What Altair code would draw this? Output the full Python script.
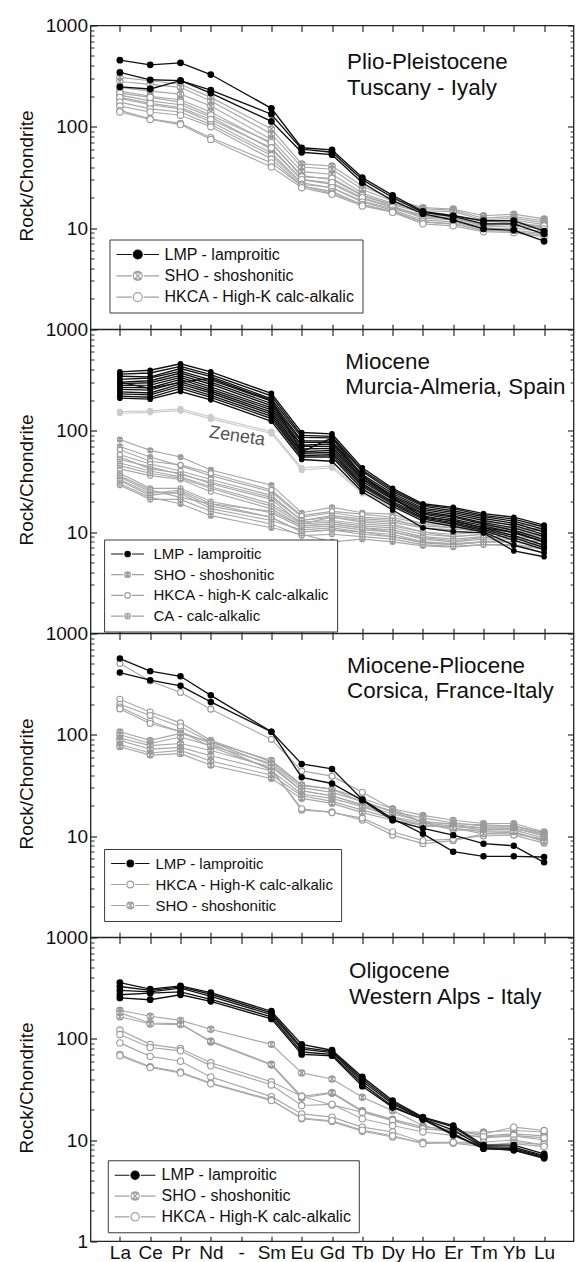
import altair as alt
import pandas as pd

FONT = "Liberation Sans"

ELEMENTS = ["La", "Ce", "Pr", "Nd", "Sm", "Eu", "Gd", "Tb", "Dy", "Ho", "Er", "Tm", "Yb", "Lu"]
AXIS_ELEMENTS = ["La", "Ce", "Pr", "Nd", "-", "Sm", "Eu", "Gd", "Tb", "Dy", "Ho", "Er", "Tm", "Yb", "Lu"]

TYPES = ["LMP", "SHO", "HKCA", "CA", "ZEN"]
LINE_COLORS = ["#111111", "#a8a8a8", "#a8a8a8", "#a8a8a8", "#cbcbcb"]
MARK_STROKES = ["#000000", "#9a9a9a", "#9a9a9a", "#9a9a9a", "#cbcbcb"]
MARK_FILLS = ["#000000", "#ffffff", "#ffffff", "#ffffff", "#cbcbcb"]

MAJOR = [10, 100, 1000]
MAJOR_WITH_ONE = [1, 10, 100, 1000]
MINOR = [2, 3, 4, 5, 6, 7, 8, 9, 20, 30, 40, 50, 60, 70, 80, 90, 200, 300, 400, 500, 600, 700, 800, 900]

# ---------------- Panel 1: Plio-Pleistocene, Tuscany ----------------
P1_LMP = [
    [455, 409, 428, 328, 152, 62, 59, 31.5, 21, 14.6, 13.2, 11.8, 11.8, 9.3],
    [344, 291, 285, 230, 133, 60, 56, 30, 20, 14.3, 13, 11, 11, 8.7],
    [248, 236, 285, 215, 113, 56, 53, 28, 18.6, 13.8, 12, 9.8, 9.5, 7.4],
]
P1_SHO = [
    [307, 285, 263, 195, 95, 43, 41, 26, 19.3, 15.9, 15.4, 13.2, 13.7, 12.3],
    [280, 262, 245, 180, 85, 40, 38, 24, 18.5, 15.5, 15, 12.5, 13, 11.8],
    [245, 225, 210, 160, 75, 36, 34, 22, 17.5, 14.8, 14.5, 12, 12.5, 11.3],
    [225, 200, 185, 140, 68, 33, 30, 21, 17, 14.2, 13.5, 11.5, 12, 10.8],
    [205, 180, 165, 125, 60, 30, 27, 19.5, 16, 13.5, 13, 11, 11.5, 10.2],
    [190, 165, 150, 112, 55, 28, 25, 18.5, 15.5, 13, 12.5, 10.5, 11, 10],
]
P1_HKCA = [
    [215, 195, 175, 130, 70, 32, 31, 21, 16.5, 13, 12.5, 10.8, 11, 10.5],
    [195, 170, 155, 118, 62, 30, 28, 20, 16, 12.5, 12, 10.2, 10.5, 9.8],
    [175, 150, 140, 105, 52, 27, 25, 18, 15, 12, 11.5, 9.8, 10, 9.2],
    [160, 140, 130, 100, 48, 26, 23, 17, 14.5, 11.5, 11, 9.5, 9.5, 8.8],
    [145, 120, 108, 78, 44, 26, 22, 17, 14.5, 11.5, 11, 9.5, 9.2, 8.5],
    [140, 118, 105, 75, 40, 25, 21.5, 16.5, 14.3, 11, 10.5, 9.2, 9, 8.2],
]
P1_TITLE = ["Plio-Pleistocene", "Tuscany - Iyaly"]
P1_LEGEND = ["LMP - lamproitic", "SHO - shoshonitic", "HKCA - High-K calc-alkalic"]
P1_LEGEND_KINDS = ["LMP", "SHO", "HKCA"]

# ---------------- Panel 2: Miocene, Murcia-Almeria ----------------
P2_LMP = [
    [381, 396, 459, 381, 234, 96, 93, 43, 27, 19, 17.5, 15.2, 14, 11.7],
    [362, 372, 432, 358, 221, 90, 88, 41, 26, 18.5, 17, 14.6, 13.4, 11.2],
    [345, 340, 412, 342, 207, 86, 85, 39.5, 25, 18, 16.2, 14.2, 12.8, 10.6],
    [322, 332, 388, 318, 196, 80, 79, 37, 24, 17.2, 15.6, 13.6, 12.2, 10],
    [302, 312, 372, 302, 186, 77, 77, 35.5, 23, 16.6, 15, 13, 11.6, 9.4],
    [292, 298, 352, 288, 177, 72, 74, 34, 22.2, 16, 14.4, 12.4, 11, 9],
    [281, 282, 336, 271, 168, 70, 70, 33, 21.4, 15.4, 14, 12, 10.4, 8.4],
    [268, 266, 322, 258, 161, 66, 67, 31.5, 21, 15, 13.4, 11.5, 9.8, 8],
    [256, 252, 304, 247, 153, 62, 64, 30, 20, 14.4, 12.8, 11, 9.2, 7.4],
    [242, 236, 290, 236, 146, 60, 61, 29, 19.4, 13.8, 12.4, 10.6, 8.8, 7],
    [231, 226, 276, 224, 139, 57, 58, 28, 18.8, 13.4, 12, 10.3, 8.3, 6.7],
    [220, 214, 262, 214, 132, 55, 55, 26.5, 18, 12.8, 11.4, 10, 7.4, 6.2],
    [210, 205, 244, 202, 124, 52, 50, 25, 16.5, 11, 10.1, 9.8, 6.5, 5.7],
    [300, 262, 300, 330, 200, 62, 85, 36, 22, 14, 13, 11, 10, 8],
]
P2_ZEN = [
    [149, 152, 158, 131, 94, 41, 43, 24, 17.5, 13, 11.5, 10.5, 9.5, 8.5],
    [155, 157, 165, 137, 98, 43, 45, 25, 18, 13.5, 12, 11, 10, 9],
]
P2_SHO = [
    [82, 64, 55, 41, 29, 15.5, 17.5, 15.5, 15, 12, 11, 11, 10.5, 11],
    [70, 55, 45, 36, 25, 14, 15.5, 14, 13.5, 11, 10, 10.5, 10, 10.5],
    [55, 42, 38, 30, 21, 12, 14, 12.5, 12, 10, 9, 9.5, 9.5, 9.5],
    [35, 25, 24, 17, 13, 10.5, 11, 10, 9.5, 8, 7.5, 8, 8.5, 8],
    [30, 22, 19, 14.5, 11, 9.5, 8, 8.5, 8, 7.3, 7.1, 7.5, 7.3, 6.8],
]
P2_HKCA = [
    [65, 50, 46, 38, 26, 14.5, 16, 15, 14, 12, 12, 12.5, 12, 11.5],
    [58, 47, 40, 33, 23, 13, 14, 13, 12.5, 11, 10.5, 11, 11, 10.5],
    [48, 40, 35, 28, 19, 12.5, 13, 12, 11.5, 10, 9.5, 10, 10, 9.5],
    [42, 36, 33, 25, 17, 11.5, 12, 11, 10.5, 9, 8.5, 9, 9, 8.5],
    [33, 24, 26, 19, 14, 10, 10.5, 10, 9, 8, 7.7, 8, 8, 7.5],
]
P2_CA = [
    [52, 44, 37, 31, 22, 13, 14.5, 13.5, 13, 11.5, 11, 11.5, 11, 10.5],
    [45, 38, 34, 27, 18, 12, 12.5, 11.5, 11, 9.5, 9, 9.5, 9.5, 9],
    [38, 27, 27, 20, 15.5, 11, 11.5, 10.5, 10, 8.5, 8, 8.5, 8.5, 8],
    [32, 23, 25, 18, 14, 10, 10.5, 9.5, 9, 7.8, 7.5, 8, 8, 7.2],
    [29, 21, 21, 16, 12, 9.2, 9.5, 9, 8.5, 7.5, 7.2, 7.5, 7.5, 7],
    [36, 26, 22, 19, 16, 11.5, 12, 11, 10, 8.8, 8.2, 8.8, 9, 8.5],
]
P2_TITLE = ["Miocene", "Murcia-Almeria, Spain"]
P2_LEGEND = ["LMP - lamproitic", "SHO - shoshonitic", "HKCA - high-K calc-alkalic", "CA - calc-alkalic"]
P2_LEGEND_KINDS = ["LMP", "SHO", "HKCA", "CA"]

# ---------------- Panel 3: Miocene-Pliocene, Corsica ----------------
P3_LMP = [
    [566, 425, 378, 245, 107, 51.5, 46, 23, 14.8, 10.5, 7, 6.3, 6.3, 6.2],
    [411, 346, 304, 211, 107, 38, 33, 22.5, 14.3, 11.9, 10.2, 8.4, 8, 5.5],
]
P3_HKCA = [
    [505, 340, 261, 179, 90, 44, 39, 27, 18.6, 13.7, 11.4, 11.5, 11.8, 10.5],
    [224, 168, 131, 88, 54, 31.6, 29, 21.7, 17.3, 13.7, 13.2, 12.9, 12.6, 10.8],
    [200, 155, 120, 85, 50, 28, 25, 20, 15.5, 12.5, 12.5, 12, 12, 10],
    [188, 136, 107, 76, 46, 18, 17.3, 14.3, 10.2, 8.4, 9, 10.5, 10.5, 9.3],
    [180, 129, 107, 82, 45, 18.6, 17, 15, 11, 9, 9.3, 10, 10.2, 8.5],
]
P3_SHO = [
    [107, 88, 103, 85, 56, 32, 29, 23.5, 18.6, 16, 14.3, 13.3, 13.3, 11],
    [100, 82, 95, 78, 52, 30, 27, 22, 17.5, 15, 13.5, 12.5, 12.5, 10.5],
    [93, 78, 82, 70, 48, 28, 25, 20.5, 16.5, 14, 13, 12, 12, 10],
    [88, 72, 75, 62, 44, 26, 23.5, 19.5, 15.5, 13.5, 12.5, 11.5, 11.5, 9.5],
    [80, 66, 70, 55, 40, 25, 22, 18, 15, 13, 12, 11, 11, 9],
    [76, 63, 65, 50, 37, 23.5, 21, 17, 14.3, 12.8, 12, 10.5, 11, 8.8],
]
P3_TITLE = ["Miocene-Pliocene", "Corsica, France-Italy"]
P3_LEGEND = ["LMP - lamproitic", "HKCA - High-K calc-alkalic", "SHO - shoshonitic"]
P3_LEGEND_KINDS = ["LMP", "HKCA", "SHO"]

# ---------------- Panel 4: Oligocene, Western Alps ----------------
P4_LMP = [
    [359, 309, 333, 286, 187, 88, 77, 42, 24.5, 16.8, 13.9, 8.9, 8.9, 7.3],
    [328, 300, 325, 275, 180, 82, 75, 40, 23.5, 16.5, 13.5, 8.6, 8.5, 7],
    [300, 290, 316, 262, 173, 79, 73, 38, 22.7, 16.2, 12.5, 8.4, 8.2, 6.9],
    [272, 282, 290, 245, 165, 74, 70, 36, 21.5, 16, 11.5, 8.2, 8, 6.7],
    [253, 243, 272, 234, 157, 70, 68, 34, 21, 16, 11.2, 8.3, 7.9, 6.6],
]
P4_SHO = [
    [191, 167, 152, 124, 88, 46, 40, 26.4, 19.5, 13.9, 12, 12, 12.4, 12],
    [180, 143, 141, 93, 55, 26, 29, 19, 15.5, 13, 12, 10.5, 11, 10],
    [165, 140, 138, 95, 56, 27, 29.5, 19.5, 16, 13.5, 12.5, 11, 11.5, 11],
]
P4_HKCA = [
    [122, 88, 80, 58, 37.6, 27, 22.2, 18.8, 15.6, 12.9, 12.4, 11.5, 13.4, 12.4],
    [110, 82, 76, 54, 35, 21.9, 22.5, 16.2, 13.9, 12, 11.1, 10.8, 11.1, 10.5],
    [91, 67, 60, 42, 26.8, 18.1, 16.8, 13.4, 12, 9.5, 9.5, 9.5, 10, 8.9],
    [70, 53, 47, 36.5, 25, 16.2, 15.2, 12.2, 10.7, 9.4, 9.3, 8.6, 9.5, 9],
    [68, 52, 46, 36, 24.5, 16.5, 15.5, 12.5, 11, 9.2, 9.5, 9, 9.2, 8.6],
]
P4_TITLE = ["Oligocene", "Western Alps - Italy"]
P4_LEGEND = ["LMP - lamproitic", "SHO - shoshonitic", "HKCA - High-K calc-alkalic"]
P4_LEGEND_KINDS = ["LMP", "SHO", "HKCA"]

ZENETA_LABEL = "Zeneta"
Y_TITLE = "Rock/Chondrite"

# ---------------- styling helpers ----------------
W = 483
H = 303.75

SHO_PATH = "M-1,0A1,1 0 1,0 1,0A1,1 0 1,0 -1,0Z M-0.7,-0.7L0.7,-0.7L-0.7,0.7L0.7,0.7Z"
CA_PATH = "M-1,0A1,1 0 1,0 1,0A1,1 0 1,0 -1,0Z M-1,0L1,0M0,-1L0,1"
MARK_SHAPES = ["circle", SHO_PATH, "circle", CA_PATH, "circle"]


def legend_path(kind, total, diam, off):
    u = 5.0
    left = -off / 2.0
    right = total - off / 2.0
    r = diam / 2.0
    cx = left + total / 2.0
    gap = 1.5

    def f(v):
        return f"{v / u:.3f}"

    p = f"M{f(left)},0L{f(cx - r - gap)},0M{f(cx + r + gap)},0L{f(right)},0"
    p += f"M{f(cx - r)},0A{f(r)},{f(r)} 0 1,0 {f(cx + r)},0A{f(r)},{f(r)} 0 1,0 {f(cx - r)},0Z"
    k = 0.7 * r
    if kind == "SHO":
        p += f"M{f(cx - k)},{f(-k)}L{f(cx + k)},{f(-k)}L{f(cx - k)},{f(k)}L{f(cx + k)},{f(k)}Z"
    if kind == "CA":
        p += f"M{f(cx - r)},0L{f(cx + r)},0M{f(cx)},{f(-r)}L{f(cx)},{f(r)}"
    return p


def long_df(groups):
    rows = []
    sid = 0
    for t, series in groups:
        for vals in series:
            sid += 1
            for i, (el, v) in enumerate(zip(ELEMENTS, vals)):
                rows.append({"s": f"{t}{sid}", "t": t, "el": el, "i": i, "v": v})
    return pd.DataFrame(rows)


def xscale():
    return alt.Scale(type="point", domain=AXIS_ELEMENTS, padding=0.97)


def yscale():
    return alt.Scale(type="log", domain=[1, 1000])


TICK_COLOR = "#2a2a2a"


def ax_top():
    return alt.Axis(orient="top", offset=-6, tickSize=6, tickWidth=1.2, tickColor=TICK_COLOR,
                    domain=False, grid=False, labels=False, title=None)


def ax_bottom(labels):
    if labels:
        return alt.Axis(orient="bottom", offset=-5, tickSize=5, tickWidth=1.2, tickColor=TICK_COLOR,
                        domain=False, grid=False, labels=True, labelAngle=0, labelPadding=2,
                        labelFont=FONT, labelFontSize=19, labelColor="#111", labelOverlap=False,
                        title=None)
    return alt.Axis(orient="bottom", offset=-5, tickSize=5, tickWidth=1.2, tickColor=TICK_COLOR,
                    domain=False, grid=False, labels=False, title=None)


def ax_left_major(vals):
    return alt.Axis(orient="left", values=vals, format="d", offset=-6, tickSize=6, tickWidth=1.2,
                    tickColor=TICK_COLOR, domain=False, grid=False, labelPadding=3, labelFont=FONT,
                    labelFontSize=19, labelColor="#111", labelFlush=False, labelOverlap=False,
                    title=Y_TITLE, titleFont=FONT, titleFontSize=19, titleFontWeight="normal",
                    titleColor="#111", titleAngle=270, titleX=-70, titleY=150,
                    titleAlign="center", titleBaseline="middle")


def ax_right_major():
    return alt.Axis(orient="right", values=MAJOR, offset=-6, tickSize=6, tickWidth=1.2,
                    tickColor=TICK_COLOR, domain=False, grid=False, labels=False, title=None)


def ax_minor(orient):
    return alt.Axis(orient=orient, values=MINOR, offset=-3.5, tickSize=3.5, tickWidth=1,
                    tickColor=TICK_COLOR, domain=False, grid=False, labels=False, title=None)


def panel(groups, legend_labels, legend_kinds, title_lines, tx, ty, tlh, lg, psize, bottom_labels,
          yvals, extra_layers=()):
    df = long_df(groups)
    gray = df[df.t != "LMP"]
    black = df[df.t == "LMP"]

    color_lines = alt.Color("t:N", scale=alt.Scale(domain=TYPES, range=LINE_COLORS), legend=None)
    color_marks = alt.Color("t:N", scale=alt.Scale(domain=TYPES, range=MARK_STROKES), legend=None)
    fill_marks = alt.Fill("t:N", scale=alt.Scale(domain=TYPES, range=MARK_FILLS), legend=None)
    shape_marks = alt.Shape("t:N", scale=alt.Scale(domain=TYPES, range=MARK_SHAPES), legend=None)

    gray_lines = alt.Chart(gray).mark_line(strokeWidth=1.15).encode(
        x=alt.X("el:N", scale=xscale(), axis=ax_top()),
        y=alt.Y("v:Q", scale=yscale(), axis=ax_left_major(yvals)),
        color=color_lines,
        detail="s:N",
        order="i:Q",
    )
    gray_points = alt.Chart(gray).mark_point(filled=False, size=psize, strokeWidth=1.1, opacity=1).encode(
        x=alt.X("el:N", scale=xscale(), axis=ax_bottom(bottom_labels)),
        y=alt.Y("v:Q", scale=yscale(), axis=ax_right_major()),
        color=color_marks,
        fill=fill_marks,
        shape=shape_marks,
    )
    black_lines = alt.Chart(black).mark_line(strokeWidth=1.35, color="#111111").encode(
        x=alt.X("el:N", scale=xscale(), axis=None),
        y=alt.Y("v:Q", scale=yscale(), axis=ax_minor("left")),
        detail="s:N",
        order="i:Q",
    )
    black_points = alt.Chart(black).mark_point(filled=True, size=psize + 6, color="#000000", opacity=1,
                                               shape="circle").encode(
        x=alt.X("el:N", scale=xscale(), axis=None),
        y=alt.Y("v:Q", scale=yscale(), axis=ax_minor("right")),
    )

    # legend (built-in Vega-Lite legend, carried by a clipped, off-plot layer)
    lg_x, lg_y, lg_fs, lg_rp, lg_total, lg_diam, lg_labeloff = lg
    off = lg_fs
    paths = [legend_path(k, lg_total, lg_diam, off) for k in legend_kinds]
    strokes = ["#111111" if k == "LMP" else "#a0a0a0" for k in legend_kinds]
    fills = ["#000000" if k == "LMP" else "#ffffff" for k in legend_kinds]
    legend = alt.Legend(
        title=None, orient="none", legendX=lg_x, legendY=lg_y, direction="vertical",
        strokeColor="#3a3a3a", fillColor="white", padding=7,
        labelFont=FONT, labelFontSize=lg_fs, labelColor="#111", labelLimit=500,
        labelOffset=lg_labeloff, symbolSize=100, symbolStrokeWidth=1.2, rowPadding=lg_rp,
        symbolFillColor="white", symbolStrokeColor="#a0a0a0", symbolOpacity=1,
    )
    legend_layer = alt.Chart(alt.Data(values=[{"lab": l} for l in legend_labels])).mark_point(
        filled=False, clip=True, strokeWidth=1.2).encode(
        x=alt.value(-60), y=alt.value(-60),
        color=alt.Color("lab:N", scale=alt.Scale(domain=legend_labels, range=strokes), legend=legend),
        fill=alt.Fill("lab:N", scale=alt.Scale(domain=legend_labels, range=fills), legend=legend),
        shape=alt.Shape("lab:N", scale=alt.Scale(domain=legend_labels, range=paths), legend=legend),
    )

    title = alt.Chart(alt.Data(values=[{}])).mark_text(
        text=title_lines, font=FONT, fontSize=22.4, align="left", baseline="alphabetic",
        lineHeight=tlh, color="#111"
    ).encode(x=alt.value(tx), y=alt.value(ty))

    layers = [gray_lines, gray_points, black_lines, black_points, legend_layer, title] + list(extra_layers)
    return alt.layer(*layers).resolve_scale(
        x="independent", y="independent", color="independent", shape="independent", fill="independent"
    ).properties(width=W, height=H)


zeneta = alt.Chart(alt.Data(values=[{}])).mark_text(
    text=ZENETA_LABEL, font=FONT, fontSize=18, color="#555555", angle=8, align="center", baseline="middle"
).encode(x=alt.value(146.5), y=alt.value(107))

p1 = panel([("SHO", P1_SHO), ("HKCA", P1_HKCA), ("LMP", P1_LMP)], P1_LEGEND, P1_LEGEND_KINDS,
           P1_TITLE, 256.6, 43.3, 26, (19, 214, 16, 5.3, 42.5, 9, 32), 40, False, MAJOR)
p2 = panel([("ZEN", P2_ZEN), ("SHO", P2_SHO), ("HKCA", P2_HKCA), ("CA", P2_CA), ("LMP", P2_LMP)],
           P2_LEGEND, P2_LEGEND_KINDS, P2_TITLE, 254.8, 39.5, 25, (13.6, 210, 15, 4.7, 33, 5.5, 27.4),
           26, False, MAJOR, extra_layers=[zeneta])
p3 = panel([("HKCA", P3_HKCA), ("SHO", P3_SHO), ("LMP", P3_LMP)], P3_LEGEND, P3_LEGEND_KINDS,
           P3_TITLE, 256.6, 39.2, 25.6, (13.6, 215.5, 15, 5, 38.4, 6.7, 29.3), 36, False, MAJOR)
p4 = panel([("SHO", P4_SHO), ("HKCA", P4_HKCA), ("LMP", P4_LMP)], P4_LEGEND, P4_LEGEND_KINDS,
           P4_TITLE, 258.5, 40.5, 26, (17.3, 222.75, 16, 4.8, 40.6, 8.3, 30.7), 40, True, MAJOR_WITH_ONE)

chart = alt.vconcat(p1, p2, p3, p4, spacing=0, bounds="flush").properties(
    padding={"left": 16.5, "top": 15.5, "right": 0, "bottom": 0}
).configure_view(stroke="#222222", strokeWidth=1.3)

chart.save("out.html", embed_options={"renderer": "svg", "actions": False})
